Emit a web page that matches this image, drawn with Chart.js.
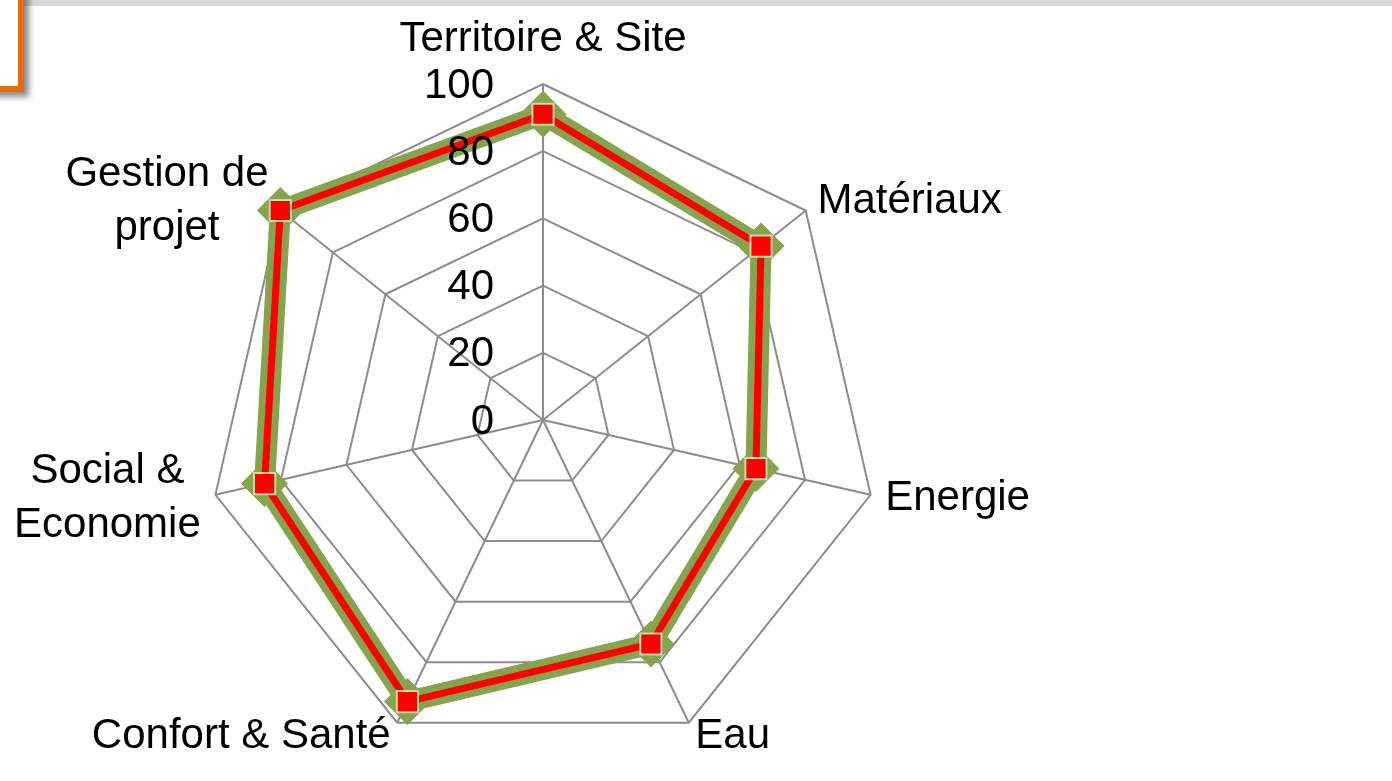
<!DOCTYPE html>
<html>
<head>
<meta charset="utf-8">
<script src="https://cdn.jsdelivr.net/npm/chart.js@4"></script>
<style>
  html, body { margin: 0; padding: 0; background: #fff; overflow: hidden; }
  #topbar { position: absolute; left: 0; top: 0; width: 1392px; height: 6px; background: #d9d9d9; }
  #box { position: absolute; left: -20px; top: -20px; width: 44px; height: 112px; box-sizing: border-box;
         background: #fff; border: 6px solid #e46c0a; box-shadow: 5px 5px 6px rgba(0,0,0,0.45); }
  #chart { position: absolute; left: 0; top: 0; }
</style>
</head>
<body>
<div id="topbar"></div>
<div id="box"></div>
<canvas id="chart" width="1392" height="781"></canvas>
<script>
const categories = ['Territoire & Site', 'Matériaux', 'Energie', 'Eau', 'Confort & Santé', ['Social &', 'Economie'], ['Gestion de', 'projet']];
const scoreProjet = [91, 83, 65, 74, 93, 85, 100];
const scoreCible = [91, 83, 65, 74, 93, 85, 100];
const tickValues = [0, 20, 40, 60, 80, 100];

const FONT = '42px "Liberation Sans", Arial, sans-serif';

// tick labels left of the vertical axis + centred point labels (Excel style)
const radarText = {
    id: 'radarText',
    afterDatasetsDraw(chart) {
        const s = chart.scales.r;
        const ctx = chart.ctx;
        ctx.save();
        ctx.font = FONT;
        ctx.fillStyle = '#000';
        ctx.textBaseline = 'middle';
        ctx.textAlign = 'right';
        s.ticks.forEach(t => {
            const d = s.getDistanceFromCenterForValue(t.value);
            ctx.fillText(String(t.value), s.xCenter - 49, s.yCenter - d + 2);
        });
        const lh = 54;
        ctx.textAlign = 'center';
        chart.data.labels.forEach((lab, i) => {
            const lines = Array.isArray(lab) ? lab : [lab];
            const p = s.getPointPosition(i, s.drawingArea + 15);
            const w = Math.max(...lines.map(l => ctx.measureText(l).width));
            const h = lines.length * lh;
            const dx = p.x - s.xCenter;
            let cx, top;
            if (Math.abs(dx) < 1) { cx = p.x; top = p.y - h - 3; }
            else if (dx > 0) { cx = p.x + w / 2; top = p.y - h / 2; }
            else { cx = p.x - w / 2; top = p.y - h / 2; }
            lines.forEach((l, k) => ctx.fillText(l, cx, top + lh * (k + 0.5)));
        });
        ctx.restore();
    }
};

const chart = new Chart(document.getElementById('chart').getContext('2d'), {
    type: 'radar',
    data: {
        labels: categories,
        datasets: [{
            label: 'Projet',
            data: scoreProjet,
            borderColor: '#ff0000',
            borderWidth: 7,
            fill: false,
            pointStyle: 'rect',
            pointRadius: 15,
            pointBackgroundColor: '#ff0000',
            pointBorderColor: '#cbd9a6',
            pointBorderWidth: 2
        }, {
            label: 'Cible',
            data: scoreCible,
            borderColor: '#86a34e',
            borderWidth: 21,
            fill: false,
            pointStyle: 'rectRot',
            pointRadius: 23,
            pointBackgroundColor: '#86a34e',
            pointBorderColor: '#86a34e',
            pointBorderWidth: 1
        }]
    },
    options: {
        responsive: false,
        animation: false,
        layout: { padding: { left: 207.5, right: 512.5, top: 84, bottom: 25 } },
        plugins: { legend: { display: false }, tooltip: { enabled: false } },
        scales: {
            r: {
                min: 0,
                max: 100,
                beginAtZero: true,
                ticks: { stepSize: 20, display: false },
                afterBuildTicks: s => { s.ticks = tickValues.map(v => ({ value: v })); },
                pointLabels: { display: false },
                grid: { color: '#8c8c8c', lineWidth: 2 },
                angleLines: { color: '#8c8c8c', lineWidth: 2 }
            }
        }
    },
    plugins: [radarText]
});
</script>
</body>
</html>
